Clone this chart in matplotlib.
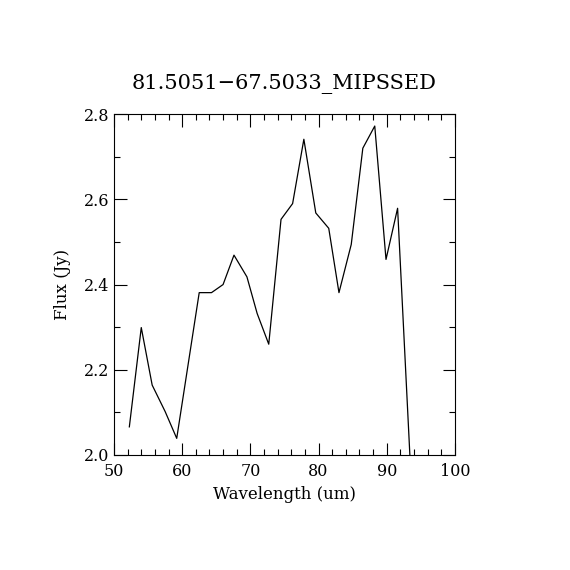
import numpy as np
import matplotlib
matplotlib.use("Agg")
import matplotlib.pyplot as plt
from matplotlib.ticker import MultipleLocator

plt.rcParams['font.family'] = ['DejaVu Serif']

# spectrum
wave = [52.25, 54.0, 55.6, 57.5, 59.2, 62.5, 64.3, 66.0, 67.6, 69.5, 71.0, 72.7,
        74.5, 76.2, 77.85, 79.6, 81.5, 83.0, 84.8, 86.5, 88.25, 89.9, 91.6, 93.4]
flux = [2.066, 2.299, 2.164, 2.102, 2.039, 2.381, 2.381, 2.40, 2.469, 2.418, 2.332, 2.26,
        2.553, 2.590, 2.741, 2.568, 2.532, 2.381, 2.494, 2.720, 2.772, 2.459, 2.579, 2.0]

fig = plt.figure(figsize=(5.7, 5.7), dpi=100)
ax = fig.add_axes([0.2, 0.2018, 0.598, 0.598])
ax.plot(wave, flux, color='black', lw=0.9)
ax.set_xlim(50, 100)
ax.set_ylim(2.0, 2.8)
ax.xaxis.set_major_locator(MultipleLocator(10))
ax.xaxis.set_minor_locator(MultipleLocator(2))
ax.yaxis.set_major_locator(MultipleLocator(0.2))
ax.yaxis.set_minor_locator(MultipleLocator(0.1))
ax.yaxis.set_major_formatter(matplotlib.ticker.FormatStrFormatter('%.1f'))
ax.tick_params(which='both', direction='in', top=True, right=True, labelsize=11.5, width=0.8)
ax.tick_params(which='major', length=9)
ax.tick_params(which='minor', length=4)
ax.tick_params(axis='x', pad=6)
for s in ax.spines.values():
    s.set_linewidth(0.8)
ax.set_xlabel('Wavelength (um)', fontsize=12, labelpad=4)
ax.set_ylabel('Flux (Jy)', fontsize=12, labelpad=9)
ax.set_title('81.5051\u221267.5033_MIPSSED', fontsize=15, pad=18)
fig.savefig('out.png', dpi=100)
